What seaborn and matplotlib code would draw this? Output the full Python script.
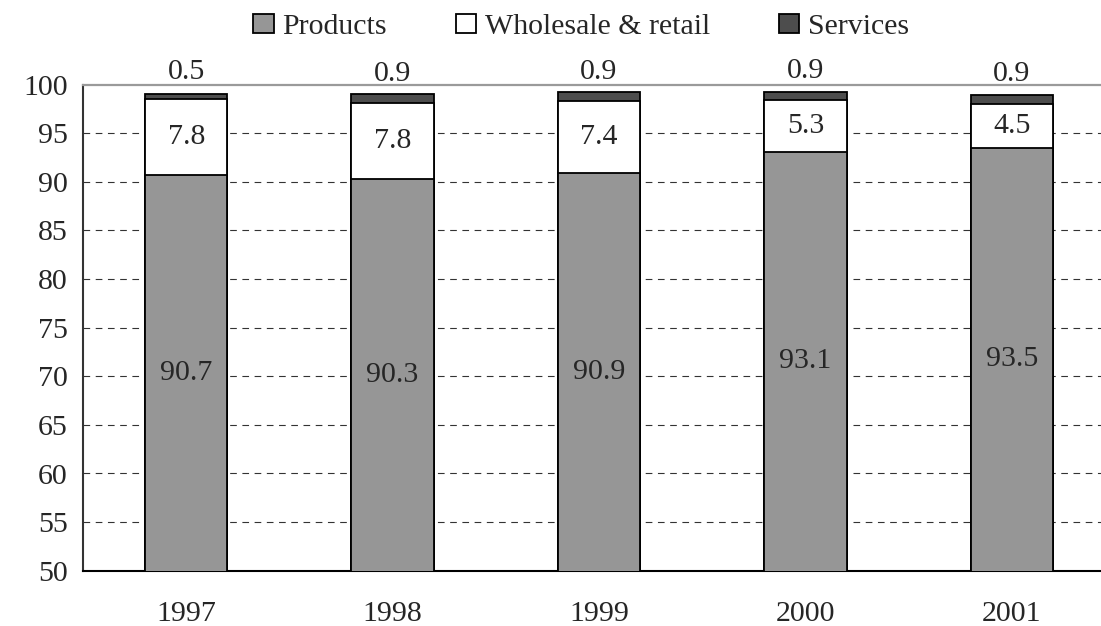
import numpy as np
import pandas as pd
import matplotlib
matplotlib.use("Agg")
import matplotlib.pyplot as plt
import seaborn as sns
from matplotlib.patches import Patch

# data
years = ["1997", "1998", "1999", "2000", "2001"]
products = [90.7, 90.3, 90.9, 93.1, 93.5]
wholesale = [7.8, 7.8, 7.4, 5.3, 4.5]
services = [0.5, 0.9, 0.9, 0.9, 0.9]
series_names = ["Products", "Wholesale & retail", "Services"]
colors = ["#969696", "#ffffff", "#4d4d4d"]

sns.set_style("white")
plt.rcParams["font.family"] = ["Liberation Serif", "DejaVu Serif"]
FS = 21.5

prod = np.array(products)
whole_top = prod + np.array(wholesale)
serv_top = whole_top + np.array(services)

df = pd.DataFrame({"year": years, "products": prod,
                   "wholesale": whole_top, "services": serv_top})

fig = plt.figure(figsize=(11.01, 6.26), dpi=100)
ax = fig.add_axes([83 / 1101, 55.3 / 626, 1032 / 1101, 486 / 626])

# stacked bars drawn as overlapping cumulative totals
for col, c in zip(["services", "wholesale", "products"], [colors[2], colors[1], colors[0]]):
    sns.barplot(data=df, x="year", y=col, order=years, color=c, width=0.4,
                edgecolor="black", linewidth=1.3, saturation=1, ax=ax, zorder=3)

ax.set_xlim(-0.5, 4.5)
ax.set_ylim(50, 100)
ax.set_yticks(np.arange(50, 101, 5))
ax.set_xlabel("")
ax.set_ylabel("")

# gridlines
for v in np.arange(55, 100, 5):
    ax.axhline(v, color="#333333", lw=0.8, dashes=(6, 5), zorder=1)

# ticks: marks at category boundaries, labels at centres
ax.set_xticks(np.arange(-0.5, 4.0, 1.0))
ax.set_xticklabels([])
ax.set_xticks(np.arange(5), minor=True)
ax.set_xticklabels(years, minor=True)
ax.tick_params(axis="x", which="major", direction="out", length=6, width=1.2, color="#333333")
ax.tick_params(axis="x", which="minor", length=0, pad=22, labelsize=FS)
ax.tick_params(axis="y", direction="out", length=7, width=1.2, color="#333333", pad=4, labelsize=FS)

ax.spines["right"].set_visible(False)
ax.spines["top"].set_color("#9a9a9a")
ax.spines["top"].set_linewidth(1.6)
ax.spines["left"].set_color("#333333")
ax.spines["left"].set_linewidth(1.5)
ax.spines["bottom"].set_color("black")
ax.spines["bottom"].set_linewidth(1.5)

# data labels
for i in range(len(years)):
    ax.text(i, (50 + prod[i]) / 2, f"{products[i]:.1f}", ha="center", va="center", fontsize=FS)
    ax.text(i, (prod[i] + whole_top[i]) / 2, f"{wholesale[i]:.1f}", ha="center", va="center", fontsize=FS)
    ax.text(i, (whole_top[i] + serv_top[i]) / 2 + 2.6, f"{services[i]:.1f}", ha="center",
            va="center", fontsize=FS, clip_on=False)

handles = [Patch(facecolor=c, edgecolor="black", linewidth=1.3) for c in colors]
fig.legend(handles, series_names, loc="center", bbox_to_anchor=(0.528, 1 - 27 / 626),
           ncol=3, frameon=False, fontsize=FS, handlelength=0.68, handleheight=0.6,
           handletextpad=0.3, columnspacing=2.3, borderpad=0)

fig.savefig("out.png", dpi=100)
